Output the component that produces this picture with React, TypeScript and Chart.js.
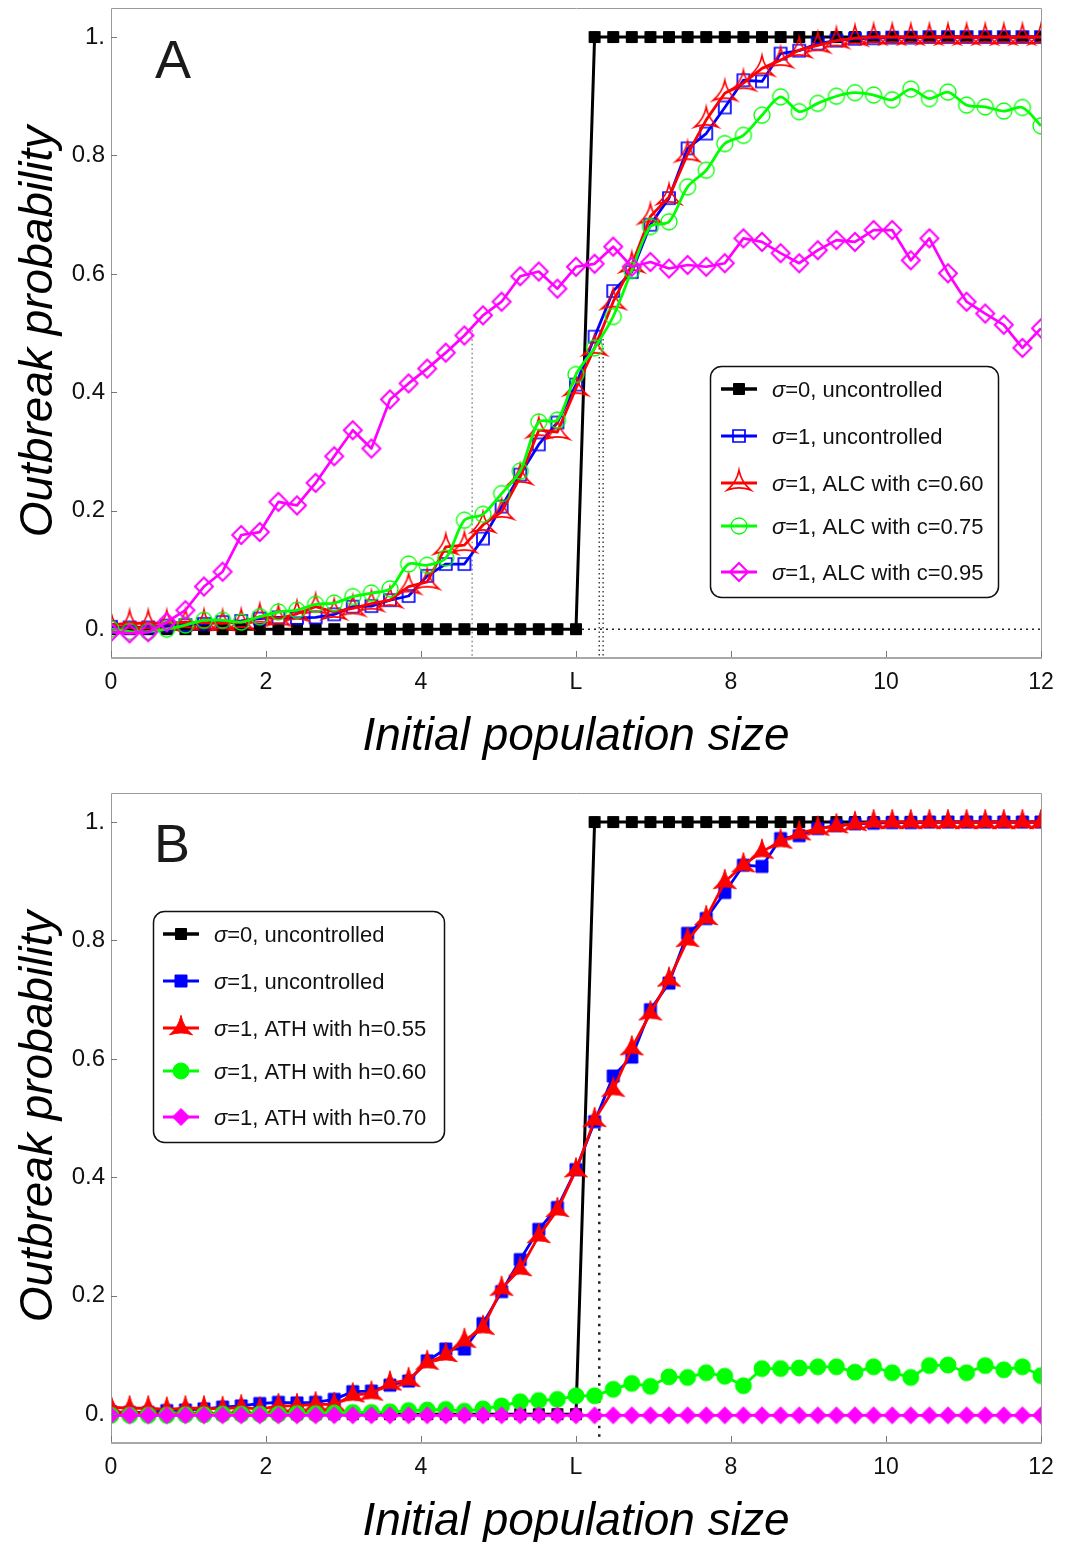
import React, { useEffect, useRef } from 'react';
import { Chart, registerables } from 'chart.js';

Chart.register(...registerables);

const FONT = '"Liberation Sans", Arial, Helvetica, sans-serif';
const Y_MIN = -0.047;
const Y_MAX = 1.049;

// ---------- data ----------
const popSize = [
  0, 0.24, 0.48, 0.72, 0.96, 1.2, 1.44, 1.68, 1.92, 2.16,
  2.4, 2.64, 2.88, 3.12, 3.36, 3.6, 3.84, 4.08, 4.32, 4.56,
  4.8, 5.04, 5.28, 5.52, 5.76, 6.0, 6.24, 6.48, 6.72, 6.96,
  7.2, 7.44, 7.68, 7.92, 8.16, 8.4, 8.64, 8.88, 9.12, 9.36,
  9.6, 9.84, 10.08, 10.32, 10.56, 10.8, 11.04, 11.28, 11.52, 11.76,
  12,
];

const xTickValues = [0, 2, 4, 6, 8, 10, 12];
const xTickLabels = ['0', '2', '4', 'L', '8', '10', '12'];
const yTickValues = [0, 0.2, 0.4, 0.6, 0.8, 1];
const yTickLabels = ['0.', '0.2', '0.4', '0.6', '0.8', '1.'];

const sigma0Uncontrolled = [
  0, 0, 0, 0, 0, 0, 0, 0, 0, 0,
  0, 0, 0, 0, 0, 0, 0, 0, 0, 0,
  0, 0, 0, 0, 0, 0, 1, 1, 1, 1,
  1, 1, 1, 1, 1, 1, 1, 1, 1, 1,
  1, 1, 1, 1, 1, 1, 1, 1, 1, 1,
  1,
];

const sigma1Uncontrolled = [
  0.004, 0.003, 0.003, 0.006, 0.007, 0.009, 0.012, 0.014, 0.018, 0.02,
  0.019, 0.02, 0.025, 0.038, 0.039, 0.049, 0.056, 0.09, 0.11, 0.11,
  0.153, 0.207, 0.261, 0.312, 0.349, 0.413, 0.494, 0.571, 0.603, 0.683,
  0.728, 0.812, 0.837, 0.881, 0.927, 0.925, 0.972, 0.977, 0.989, 0.994,
  0.997, 0.998, 0.999, 0.999, 1, 1, 1, 1, 1, 1,
  1,
];

const alcC060 = [
  0.007, 0.01, 0.01, 0.01, 0.012, 0.011, 0.01, 0.012, 0.021, 0.018,
  0.026, 0.038, 0.029, 0.035, 0.043, 0.049, 0.072, 0.08, 0.139, 0.142,
  0.176, 0.198, 0.257, 0.336, 0.333, 0.407, 0.475, 0.553, 0.615, 0.697,
  0.73, 0.802, 0.86, 0.905, 0.922, 0.947, 0.961, 0.978, 0.986, 0.994,
  0.998, 1, 1, 1, 1, 1, 1, 1, 1, 1,
  1,
];

const alcC075 = [
  0.0, -0.004, -0.004, 0.0, 0.007, 0.015, 0.015, 0.012, 0.021, 0.029,
  0.032, 0.042, 0.044, 0.055, 0.061, 0.068, 0.11, 0.108, 0.12, 0.184,
  0.194, 0.229, 0.267, 0.35, 0.353, 0.43, 0.475, 0.528, 0.606, 0.68,
  0.688, 0.747, 0.775, 0.82, 0.834, 0.868, 0.899, 0.874, 0.888, 0.9,
  0.906, 0.902, 0.894, 0.912, 0.896, 0.907, 0.885, 0.882, 0.875, 0.881,
  0.85,
];

const alcC095 = [
  -0.005, -0.007, -0.005, 0.012, 0.032, 0.072, 0.097, 0.159, 0.164, 0.215,
  0.209, 0.247, 0.292, 0.336, 0.305, 0.388, 0.415, 0.44, 0.467, 0.496,
  0.53, 0.553, 0.596, 0.604, 0.575, 0.612, 0.617, 0.646, 0.612, 0.62,
  0.609, 0.615, 0.612, 0.618, 0.66, 0.654, 0.635, 0.618, 0.64, 0.657,
  0.654, 0.674, 0.674, 0.623, 0.66, 0.601, 0.553, 0.533, 0.514, 0.475,
  0.508,
];

const athH055 = [
  0.012, 0.01, 0.01, 0.008, 0.01, 0.01, 0.009, 0.012, 0.008, 0.014,
  0.014, 0.017, 0.016, 0.032, 0.035, 0.052, 0.058, 0.087, 0.1, 0.124,
  0.146, 0.212, 0.245, 0.301, 0.345, 0.412, 0.497, 0.548, 0.618, 0.677,
  0.734, 0.801, 0.838, 0.899, 0.927, 0.95, 0.967, 0.981, 0.989, 0.993,
  0.997, 1, 1, 1, 1, 1, 1, 1, 1, 1,
  1,
];

const athH060 = [
  -0.002, -0.002, -0.002, -0.002, -0.001, -0.001, 0, 0, 0, 0,
  0.001, 0.001, 0.002, 0.003, 0.003, 0.004, 0.006, 0.007, 0.008, 0.005,
  0.009, 0.014, 0.021, 0.023, 0.025, 0.031, 0.031, 0.042, 0.052, 0.047,
  0.063, 0.062, 0.07, 0.064, 0.048, 0.077, 0.077, 0.078, 0.08, 0.08,
  0.071, 0.08, 0.07, 0.062, 0.082, 0.083, 0.07, 0.082, 0.075, 0.08,
  0.065,
];

const athH070 = [
  -0.002, -0.002, -0.002, -0.002, -0.002, -0.002, -0.002, -0.002, -0.002, -0.002,
  -0.002, -0.002, -0.002, -0.002, -0.002, -0.002, -0.002, -0.002, -0.002, -0.002,
  -0.002, -0.002, -0.002, -0.002, -0.002, -0.002, -0.002, -0.002, -0.002, -0.002,
  -0.002, -0.002, -0.002, -0.002, -0.002, -0.002, -0.002, -0.002, -0.002, -0.002,
  -0.002, -0.002, -0.002, -0.002, -0.002, -0.002, -0.002, -0.002, -0.002, -0.002,
  -0.002,
];

// half-way crossings marked by dotted guides
const crossingsA = [4.66, 6.3, 6.35];
const crossingTopsA = [0.505, 0.49, 0.49];
const crossingsB = [6.3];
const crossingTopsB = [0.497];

const labelsA = [
  'σ=0, uncontrolled',
  'σ=1, uncontrolled',
  'σ=1, ALC with c=0.60',
  'σ=1, ALC with c=0.75',
  'σ=1, ALC with c=0.95',
];
const labelsB = [
  'σ=0, uncontrolled',
  'σ=1, uncontrolled',
  'σ=1, ATH with h=0.55',
  'σ=1, ATH with h=0.60',
  'σ=1, ATH with h=0.70',
];

// ---------- markers ----------
type Shape = 'square' | 'circle' | 'diamond' | 'tri';

function tracePath(ctx: CanvasRenderingContext2D, shape: Shape, s: number) {
  ctx.beginPath();
  if (shape === 'square') {
    ctx.rect(-s, -s, 2 * s, 2 * s);
  } else if (shape === 'circle') {
    ctx.arc(0, 0, s, 0, Math.PI * 2);
  } else if (shape === 'diamond') {
    ctx.moveTo(0, -s);
    ctx.lineTo(s, 0);
    ctx.lineTo(0, s);
    ctx.lineTo(-s, 0);
    ctx.closePath();
  } else {
    const t = -1.1 * s;
    const b = 0.6 * s;
    ctx.moveTo(0, t);
    ctx.quadraticCurveTo(0.2 * s, -0.1 * s, s, b);
    ctx.quadraticCurveTo(0, 0.25 * s, -s, b);
    ctx.quadraticCurveTo(-0.2 * s, -0.1 * s, 0, t);
    ctx.closePath();
  }
}

function makeMarker(shape: Shape, s: number, color: string, filled: boolean, lw: number) {
  const c = document.createElement('canvas');
  const half = Math.ceil(s * 1.25 + lw + 2);
  c.width = half * 2;
  c.height = half * 2;
  const ctx = c.getContext('2d')!;
  ctx.translate(half, half);
  tracePath(ctx, shape, s);
  if (filled) {
    ctx.fillStyle = color;
    ctx.fill();
  }
  ctx.lineWidth = lw;
  ctx.strokeStyle = color;
  ctx.lineJoin = 'miter';
  ctx.stroke();
  return c;
}

interface SeriesDef {
  label: string;
  data: number[];
  color: string;
  shape: Shape;
  size: number;
  filled: boolean;
  lineWidth: number;
  markerLine: number;
  tension?: number;
}

interface GuideDef {
  pts: [number, number][];
  color: string;
  dash: number[];
  width: number;
}

interface PanelDef {
  letter: string;
  canvasTop: number;
  canvasHeight: number;
  letterX: number;
  letterY: number; // page coords
  series: SeriesDef[];
  padTop: number;
  xAxisHeight: number;
  guides: GuideDef[];
  legend: { x: number; y: number; w: number; h: number; rows: number[]; lineX0: number; lineX1: number; textX: number }; // page coords
}

const panelA: PanelDef = {
  letter: 'A',
  canvasTop: -14,
  canvasHeight: 785,
  letterX: 155,
  letterY: 78,
  padTop: 22,
  xAxisHeight: 114,
  series: [
    { label: labelsA[0], data: sigma0Uncontrolled, color: '#000000', shape: 'square', size: 5.5, filled: true, lineWidth: 3, markerLine: 1 },
    { label: labelsA[1], data: sigma1Uncontrolled, color: '#0000ff', shape: 'square', size: 6, filled: false, lineWidth: 2.8, markerLine: 1.7 },
    { label: labelsA[2], data: alcC060, color: '#ff0000', shape: 'tri', size: 11.5, filled: false, lineWidth: 2.8, markerLine: 1.7 },
    { label: labelsA[3], data: alcC075, color: '#00ff00', shape: 'circle', size: 8, filled: false, lineWidth: 2.8, markerLine: 1.3, tension: 0.3 },
    { label: labelsA[4], data: alcC095, color: '#ff00ff', shape: 'diamond', size: 9, filled: false, lineWidth: 2.7, markerLine: 2 },
  ],
  guides: [
    ...crossingsA.map((x, i) => ({
      pts: [[x, crossingTopsA[i]], [x, Y_MIN]] as [number, number][],
      color: i === 0 ? '#888888' : '#444444',
      dash: [1.5, 3],
      width: 1.5,
    })),
    { pts: [[6.0, 0], [12, 0]], color: '#222222', dash: [2, 4], width: 1.5 },
  ],
  legend: { x: 710, y: 366, w: 288, h: 231, rows: [389, 436, 483, 526, 572], lineX0: 721, lineX1: 757, textX: 772 },
};

const panelB: PanelDef = {
  letter: 'B',
  canvasTop: 771,
  canvasHeight: 771,
  letterX: 154,
  letterY: 862,
  padTop: 22,
  xAxisHeight: 100,
  series: [
    { label: labelsB[0], data: sigma0Uncontrolled, color: '#000000', shape: 'square', size: 5.5, filled: true, lineWidth: 3, markerLine: 1 },
    { label: labelsB[1], data: sigma1Uncontrolled, color: '#0000ff', shape: 'square', size: 6, filled: true, lineWidth: 2.8, markerLine: 1 },
    { label: labelsB[2], data: athH055, color: '#ff0000', shape: 'tri', size: 11.5, filled: true, lineWidth: 2.8, markerLine: 1 },
    { label: labelsB[3], data: athH060, color: '#00ff00', shape: 'circle', size: 8, filled: true, lineWidth: 2.8, markerLine: 1 },
    { label: labelsB[4], data: athH070, color: '#ff00ff', shape: 'diamond', size: 8.5, filled: true, lineWidth: 2.8, markerLine: 1 },
  ],
  guides: crossingsB.map((x, i) => ({
    pts: [[x, crossingTopsB[i]], [x, Y_MIN]] as [number, number][],
    color: '#222222',
    dash: [2.5, 6],
    width: 2.5,
  })),
  legend: { x: 153, y: 911, w: 291, h: 231, rows: [934, 981, 1028, 1071, 1117], lineX0: 163, lineX1: 199, textX: 214 },
};

function roundRectPath(ctx: CanvasRenderingContext2D, x: number, y: number, w: number, h: number, r: number) {
  ctx.beginPath();
  ctx.moveTo(x + r, y);
  ctx.lineTo(x + w - r, y);
  ctx.arcTo(x + w, y, x + w, y + r, r);
  ctx.lineTo(x + w, y + h - r);
  ctx.arcTo(x + w, y + h, x + w - r, y + h, r);
  ctx.lineTo(x + r, y + h);
  ctx.arcTo(x, y + h, x, y + h - r, r);
  ctx.lineTo(x, y + r);
  ctx.arcTo(x, y, x + r, y, r);
  ctx.closePath();
}

function makeDecor(panel: PanelDef, markers: HTMLCanvasElement[]) {
  const oy = panel.canvasTop;
  return {
    id: 'decor' + panel.letter,
    afterDatasetsDraw(chart: any) {
      const { ctx, chartArea: a, scales } = chart;
      const xs = scales.x;
      const ys = scales.y;
      ctx.save();
      // frame
      ctx.strokeStyle = '#9a9a9a';
      ctx.lineWidth = 1;
      ctx.beginPath();
      ctx.moveTo(a.left + 0.5, a.bottom);
      ctx.lineTo(a.left + 0.5, a.top + 0.5);
      ctx.lineTo(a.right + 0.5, a.top + 0.5);
      ctx.lineTo(a.right + 0.5, a.bottom);
      ctx.stroke();
      ctx.strokeStyle = '#a8a8a8';
      ctx.lineWidth = 2;
      ctx.beginPath();
      ctx.moveTo(a.left, a.bottom + 1);
      ctx.lineTo(a.right + 1, a.bottom + 1);
      ctx.stroke();
      // inward ticks
      ctx.strokeStyle = '#777777';
      ctx.lineWidth = 1;
      ctx.beginPath();
      yTickValues.forEach((v) => {
        const py = Math.round(ys.getPixelForValue(v)) + 0.5;
        ctx.moveTo(a.left, py);
        ctx.lineTo(a.left + 6, py);
      });
      xTickValues.forEach((v) => {
        const px = Math.round(xs.getPixelForValue(v)) + 0.5;
        ctx.moveTo(px, a.bottom);
        ctx.lineTo(px, a.bottom - 6);
      });
      ctx.stroke();

      // legend
      const lg = panel.legend;
      roundRectPath(ctx, lg.x + 0.5, lg.y - oy + 0.5, lg.w, lg.h, 11);
      ctx.fillStyle = '#ffffff';
      ctx.fill();
      ctx.strokeStyle = '#111111';
      ctx.lineWidth = 1.5;
      ctx.stroke();
      panel.series.forEach((s, i) => {
        const ry = lg.rows[i] - oy;
        ctx.beginPath();
        ctx.moveTo(lg.lineX0, ry);
        ctx.lineTo(lg.lineX1, ry);
        ctx.strokeStyle = s.color;
        ctx.lineWidth = s.lineWidth + 0.4;
        ctx.stroke();
        const m = markers[i];
        ctx.drawImage(m, (lg.lineX0 + lg.lineX1) / 2 - m.width / 2, ry - m.height / 2);
        const sym = s.label.charAt(0);
        const rest = s.label.slice(1);
        ctx.fillStyle = '#111111';
        ctx.textAlign = 'left';
        ctx.textBaseline = 'alphabetic';
        ctx.font = `italic 22px ${FONT}`;
        ctx.fillText(sym, lg.textX, ry + 7.5);
        const w1 = ctx.measureText(sym).width;
        ctx.font = `22px ${FONT}`;
        ctx.fillText(rest, lg.textX + w1, ry + 7.5);
      });

      // panel letter
      ctx.fillStyle = '#1a1a1a';
      ctx.font = `54px ${FONT}`;
      ctx.textAlign = 'left';
      ctx.textBaseline = 'alphabetic';
      ctx.fillText(panel.letter, panel.letterX, panel.letterY - oy);

      // axis titles
      ctx.fillStyle = '#000000';
      ctx.font = `italic 46px ${FONT}`;
      ctx.textAlign = 'center';
      ctx.fillText('Initial population size', (a.left + a.right) / 2, a.bottom + 93);
      ctx.save();
      ctx.translate(52, (a.top + a.bottom) / 2 - 1);
      ctx.rotate(-Math.PI / 2);
      ctx.fillText('Outbreak probability', 0, 0);
      ctx.restore();

      ctx.restore();
    },
  };
}

function makeChart(canvas: HTMLCanvasElement, panel: PanelDef) {
  const markers = panel.series.map((s) => makeMarker(s.shape, s.size, s.color, s.filled, s.markerLine));
  const datasets: any[] = [
    ...panel.guides.map((g) => ({
      data: g.pts.map(([x, y]) => ({ x, y })),
      borderColor: g.color,
      borderWidth: g.width,
      borderDash: g.dash,
      pointRadius: 0,
      fill: false,
      tension: 0,
      order: 20,
      clip: 0,
    })),
    ...panel.series.map((s, i) => ({
      label: s.label,
      data: popSize.map((x, j) => ({ x, y: s.data[j] })),
      borderColor: s.color,
      backgroundColor: s.color,
      borderWidth: s.lineWidth,
      borderJoinStyle: 'round',
      pointStyle: markers[i],
      pointRadius: s.size,
      pointHoverRadius: s.size,
      tension: s.tension ?? 0,
      fill: false,
      order: 10 - i,
      clip: 0,
    })),
  ];

  return new Chart(canvas, {
    type: 'line',
    data: { datasets },
    options: {
      responsive: false,
      animation: false,
      devicePixelRatio: 1,
      events: [],
      layout: { padding: { left: 0, right: 33, top: panel.padTop, bottom: 0 } },
      plugins: { legend: { display: false }, tooltip: { enabled: false }, title: { display: false } },
      scales: {
        x: {
          type: 'linear',
          min: 0,
          max: 12,
          grid: { display: false, drawTicks: false, tickLength: 0 },
          border: { display: false },
          afterBuildTicks: (sc: any) => {
            sc.ticks = xTickValues.map((v) => ({ value: v }));
          },
          afterFit: (sc: any) => {
            sc.height = panel.xAxisHeight;
            sc.paddingLeft = 0;
            sc.paddingRight = 0;
            sc.paddingTop = 0;
            sc.paddingBottom = 0;
          },
          ticks: {
            padding: 12,
            autoSkip: false,
            maxRotation: 0,
            color: '#111111',
            font: { family: FONT, size: 23 },
            callback: (v: any) => {
              const k = xTickValues.findIndex((t) => Math.abs(t - Number(v)) < 1e-6);
              return k >= 0 ? xTickLabels[k] : '';
            },
          },
        },
        y: {
          type: 'linear',
          min: Y_MIN,
          max: Y_MAX,
          grid: { display: false, drawTicks: false, tickLength: 0 },
          border: { display: false },
          afterBuildTicks: (sc: any) => {
            sc.ticks = yTickValues.map((v) => ({ value: v }));
          },
          afterFit: (sc: any) => {
            sc.width = 111;
            sc.paddingLeft = 0;
            sc.paddingRight = 0;
            sc.paddingTop = 0;
            sc.paddingBottom = 0;
          },
          ticks: {
            padding: 6,
            autoSkip: false,
            color: '#111111',
            font: { family: FONT, size: 24 },
            callback: (v: any) => {
              const k = yTickValues.findIndex((t) => Math.abs(t - Number(v)) < 1e-6);
              return k >= 0 ? yTickLabels[k] : '';
            },
          },
        },
      },
    } as any,
    plugins: [makeDecor(panel, markers)],
  });
}

export default function App() {
  const refA = useRef<HTMLCanvasElement>(null);
  const refB = useRef<HTMLCanvasElement>(null);
  useEffect(() => {
    const a = makeChart(refA.current!, panelA);
    const b = makeChart(refB.current!, panelB);
    return () => {
      a.destroy();
      b.destroy();
    };
  }, []);
  return (
    <div style={{ position: 'absolute', left: 0, top: 0, width: 1074, height: 1542, background: '#ffffff', overflow: 'hidden' }}>
      <canvas
        ref={refA}
        width={1074}
        height={panelA.canvasHeight}
        style={{ position: 'absolute', left: 0, top: panelA.canvasTop, width: 1074, height: panelA.canvasHeight }}
      />
      <canvas
        ref={refB}
        width={1074}
        height={panelB.canvasHeight}
        style={{ position: 'absolute', left: 0, top: panelB.canvasTop, width: 1074, height: panelB.canvasHeight }}
      />
    </div>
  );
}
